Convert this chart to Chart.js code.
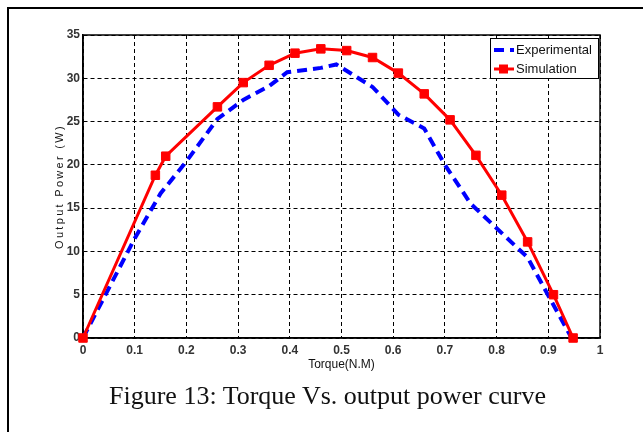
<!DOCTYPE html>
<html><head><meta charset="utf-8">
<script src="https://cdn.jsdelivr.net/npm/chart.js@4"></script>
<style>
html,body{margin:0;padding:0;background:#fff;}
#wrap{position:relative;width:643px;height:432px;overflow:hidden;background:#fff;}
canvas{position:absolute;left:0;top:0;}
#frameTop{position:absolute;left:7px;top:7px;width:636px;height:2px;background:#000;}
#frameLeft{position:absolute;left:7px;top:7px;width:2px;height:425px;background:#000;}
#caption{position:absolute;left:109px;top:383px;font-family:'Liberation Serif','Times New Roman',serif;font-size:26px;line-height:26px;color:#111;white-space:nowrap;}
</style></head>
<body>
<div id="wrap">
<canvas id="c" width="643" height="432"></canvas>
<div id="frameTop"></div><div id="frameLeft"></div>
<div id="caption">Figure 13: Torque Vs. output power curve</div>
</div>
<script>
// ---- data ----
const expTorque = [0, 0.1, 0.15, 0.2, 0.26, 0.31, 0.36, 0.395, 0.46, 0.49, 0.56, 0.61, 0.66, 0.70, 0.75, 0.86, 0.90, 0.945];
const expPower  = [0, 11.5, 16.7, 20.4, 25.3, 27.5, 29.1, 30.7, 31.2, 31.6, 29.0, 25.8, 24.2, 20.0, 15.5, 9.3, 4.9, 0];
const simTorque = [0, 0.14, 0.16, 0.26, 0.31, 0.36, 0.41, 0.46, 0.51, 0.56, 0.61, 0.66, 0.71, 0.76, 0.81, 0.86, 0.91, 0.948];
const simPower  = [0, 18.8, 21.0, 26.7, 29.5, 31.5, 32.9, 33.4, 33.2, 32.4, 30.6, 28.2, 25.2, 21.1, 16.5, 11.1, 5.0, 0];
const seriesNames = ['Experimental', 'Simulation'];
const xTickLabels = ['0','0.1','0.2','0.3','0.4','0.5','0.6','0.7','0.8','0.9','1'];
const yTickLabels = ['0','5','10','15','20','25','30','35'];
const xTitle = 'Torque(N.M)';
const yTitle = 'Output Power (W)';

const BLUE = '#0000ff', RED = '#ff0000';
Chart.defaults.font.family = "'Liberation Sans', Arial, sans-serif";
Chart.defaults.color = '#222';

const xTickVals = xTickLabels.map(Number);
const yTickVals = yTickLabels.map(Number);

const decor = {
  id: 'decor',
  beforeDatasetsDraw(chart) {
    const {ctx, chartArea: a} = chart;
    ctx.save();
    ctx.strokeStyle = '#000';
    ctx.lineWidth = 1.5;
    ctx.setLineDash([]);
    ctx.strokeRect(a.left, a.top, a.right - a.left, a.bottom - a.top);
    ctx.restore();
  },
  afterDraw(chart) {
    const {ctx, chartArea: a} = chart;
    // y axis title
    ctx.save();
    ctx.translate(60, (a.top + a.bottom) / 2);
    ctx.rotate(-Math.PI / 2);
    ctx.font = "11px 'Liberation Sans', Arial, sans-serif";
    if ('letterSpacing' in ctx) ctx.letterSpacing = '2.3px';
    ctx.fillStyle = '#111';
    ctx.textAlign = 'center';
    ctx.textBaseline = 'middle';
    ctx.fillText(yTitle, 0, 0);
    ctx.restore();
    // legend
    const bx = 490.5, by = 38.5, bw = 108, bh = 40;
    ctx.save();
    ctx.fillStyle = '#fff';
    ctx.fillRect(bx, by, bw, bh);
    ctx.strokeStyle = '#000';
    ctx.lineWidth = 1;
    ctx.strokeRect(bx, by, bw, bh);
    ctx.font = "13px 'Liberation Sans', Arial, sans-serif";
    ctx.textBaseline = 'middle';
    ctx.fillStyle = '#111';
    const ds = chart.data.datasets;
    const rows = [50, 69];
    ds.forEach((d, i) => {
      const y = rows[i];
      ctx.save();
      ctx.strokeStyle = d.borderColor;
      ctx.lineWidth = d.borderWidth;
      ctx.setLineDash(d.borderDash || []);
      ctx.beginPath(); ctx.moveTo(494, y); ctx.lineTo(514, y); ctx.stroke();
      if (d.pointRadius > 0) {
        ctx.fillStyle = d.borderColor;
        ctx.fillRect(499, y - 4.5, 9, 9);
      }
      ctx.restore();
      ctx.fillText(d.label, 516, y + 0.5);
    });
    ctx.restore();
  }
};

new Chart(document.getElementById('c'), {
  type: 'scatter',
  data: {
    datasets: [
      {
        label: seriesNames[0],
        data: expTorque.map((x, i) => ({x, y: expPower[i]})),
        showLine: true,
        borderColor: BLUE,
        backgroundColor: BLUE,
        borderWidth: 4,
        borderDash: [10, 6],
        pointRadius: 0,
        order: 1,
        clip: false
      },
      {
        label: seriesNames[1],
        data: simTorque.map((x, i) => ({x, y: simPower[i]})),
        showLine: true,
        borderColor: RED,
        backgroundColor: RED,
        borderWidth: 3,
        pointStyle: 'rect',
        pointRadius: 6,
        pointBorderWidth: 1,
        pointBackgroundColor: RED,
        pointBorderColor: RED,
        order: 0,
        clip: false
      }
    ]
  },
  options: {
    responsive: false,
    animation: false,
    layout: { padding: { left: 0, top: 35, right: 43, bottom: 54 } },
    plugins: { legend: { display: false }, tooltip: { enabled: false } },
    scales: {
      x: {
        type: 'linear', min: 0, max: 1,
        afterBuildTicks: s => { s.ticks = xTickVals.map(v => ({value: v})); },
        afterFit: s => { s.height = 40; },
        ticks: {
          padding: 5, maxRotation: 0, autoSkip: false,
          font: { size: 12, weight: 'bold' }, color: '#333',
          callback: (v, i) => xTickLabels[i]
        },
        grid: { color: '#000', lineWidth: 1, drawTicks: false },
        border: { color: '#000', width: 1.5, dash: [4, 3] },
        title: { display: true, text: xTitle, font: { size: 12 }, color: '#111', padding: { top: 0, bottom: 6 } }
      },
      y: {
        type: 'linear', min: 0, max: 35,
        afterBuildTicks: s => { s.ticks = yTickVals.map(v => ({value: v})); },
        afterFit: s => { s.width = 83; },
        ticks: {
          padding: 3, autoSkip: false,
          font: { size: 12, weight: 'bold' }, color: '#333',
          callback: (v, i) => yTickLabels[i]
        },
        grid: { color: '#000', lineWidth: 1, drawTicks: false },
        border: { color: '#000', width: 1.5, dash: [4, 3] },
        title: { display: false }
      }
    }
  },
  plugins: [decor]
});
</script>
</body></html>
